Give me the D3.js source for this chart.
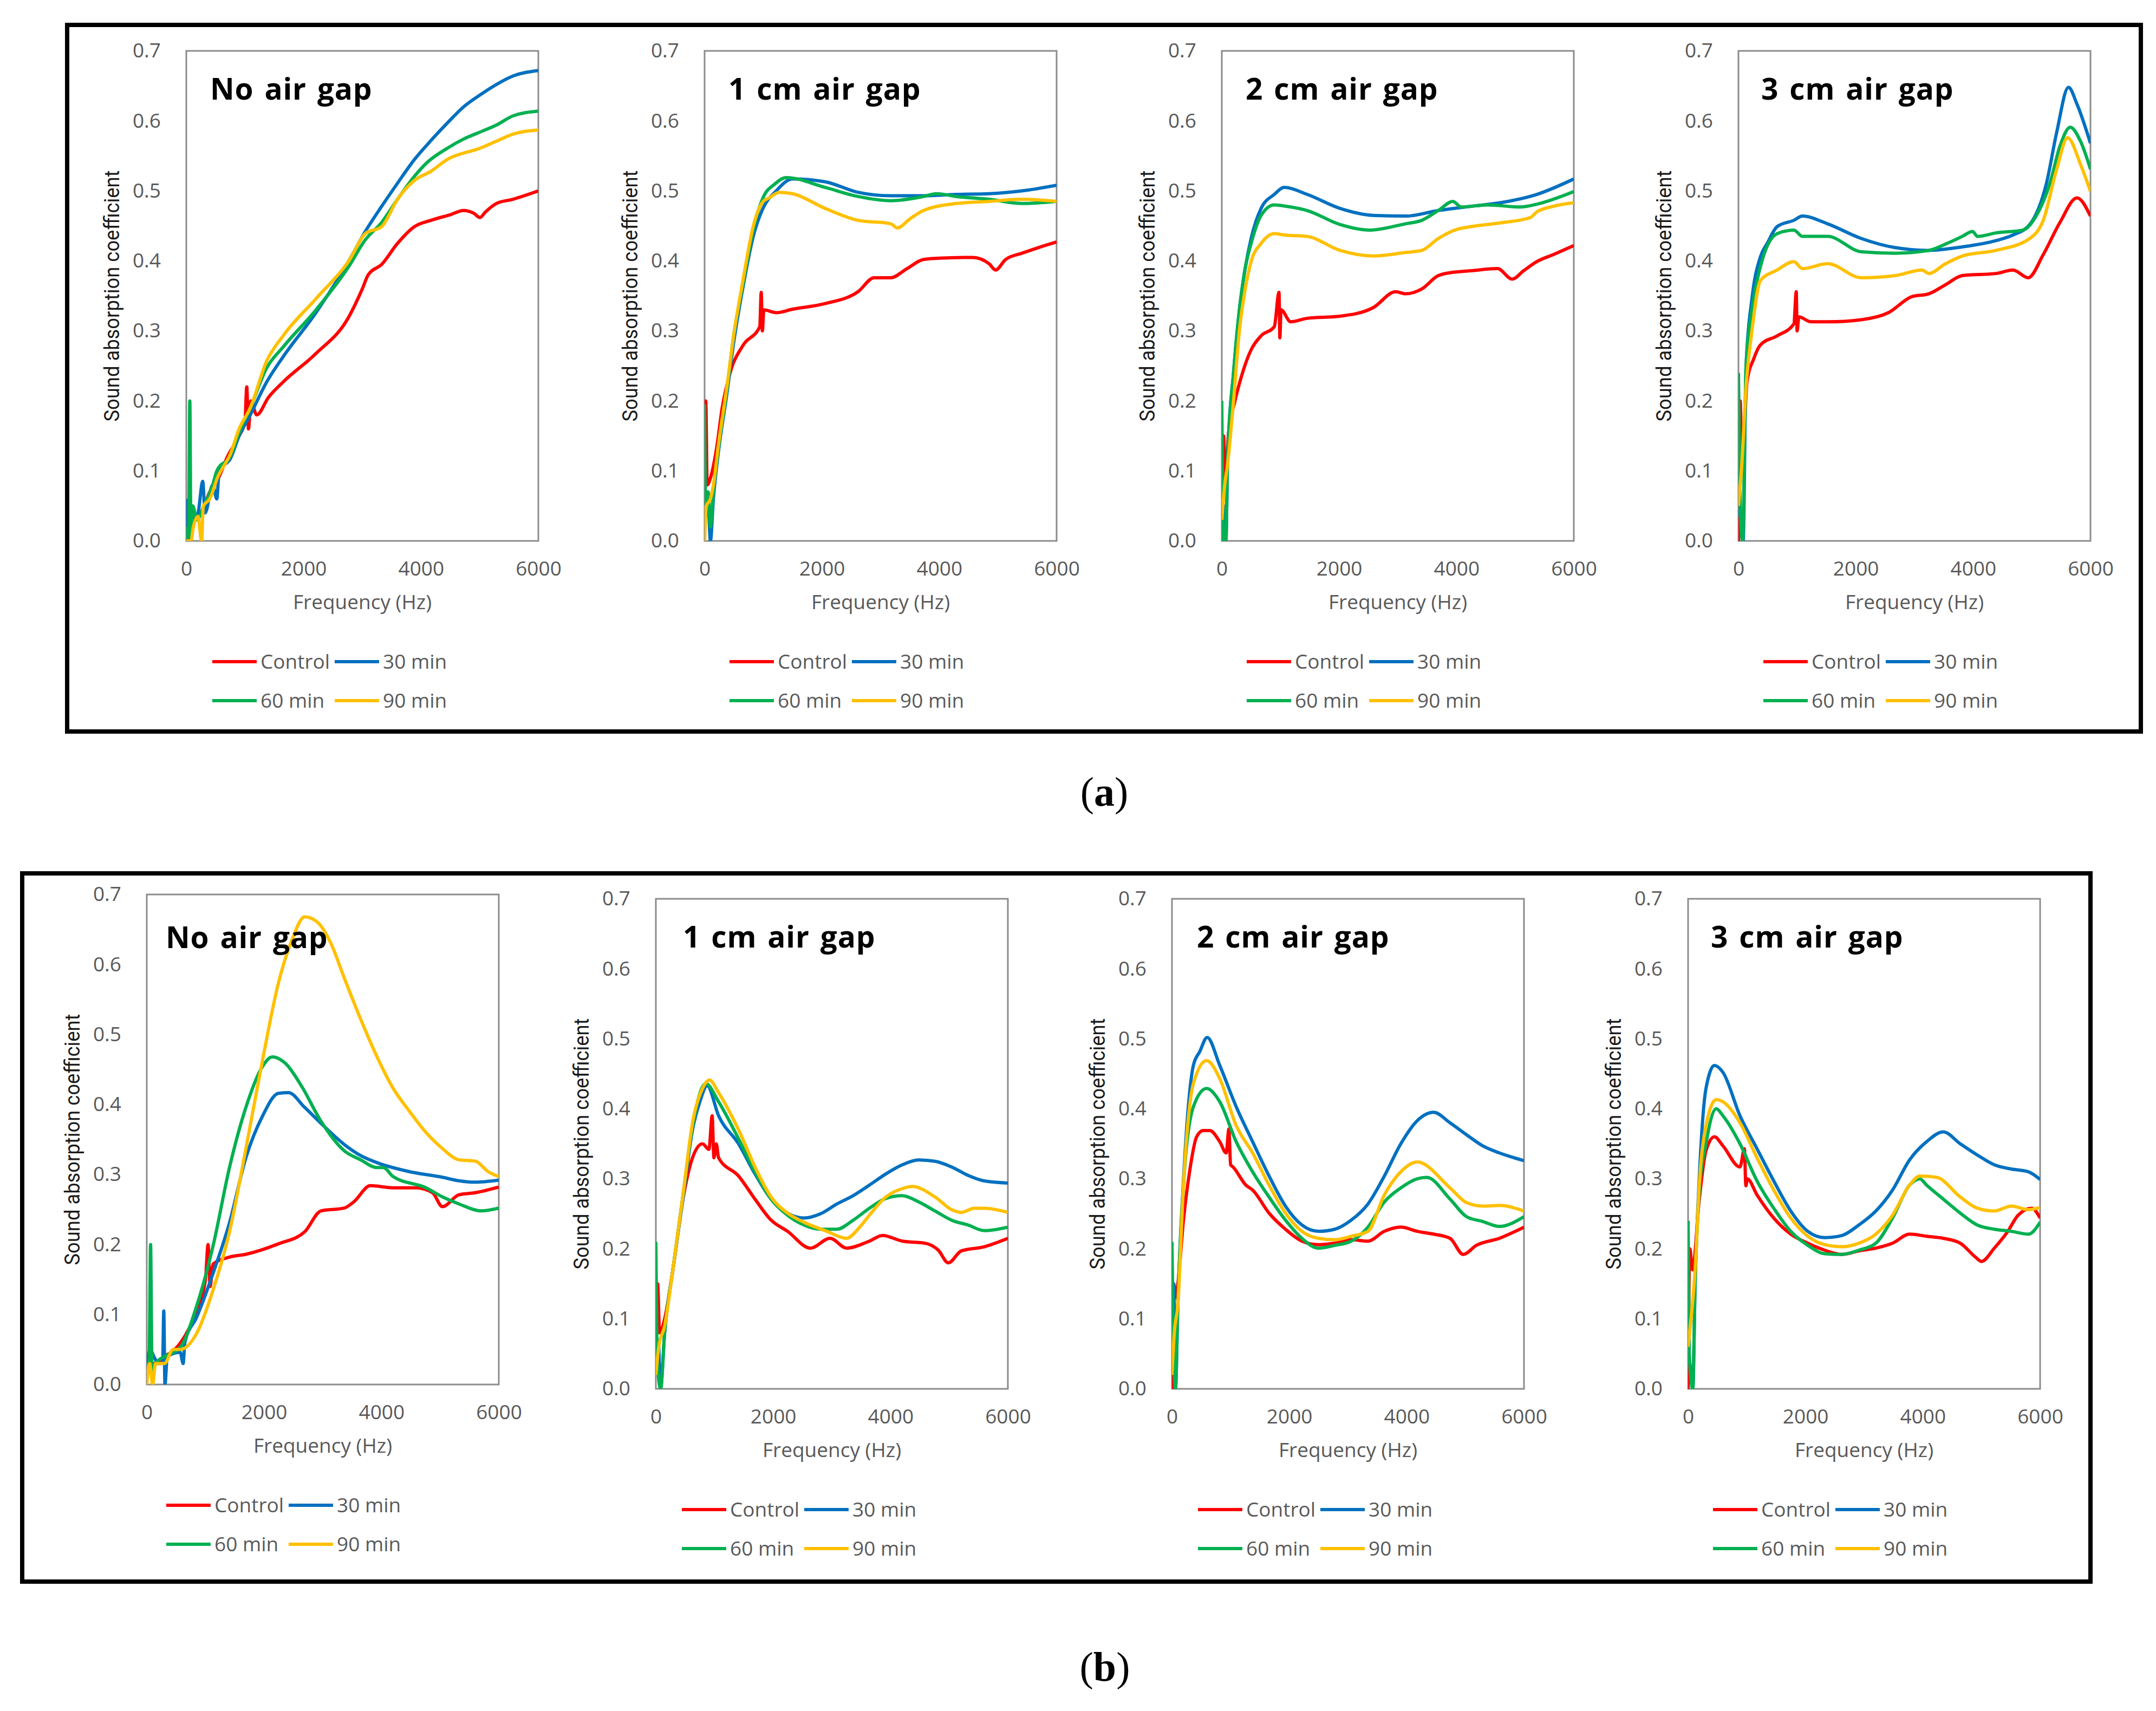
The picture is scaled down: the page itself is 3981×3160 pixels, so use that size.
<!DOCTYPE html>
<html>
<head>
<meta charset="utf-8">
<script src="https://d3js.org/d3.v7.min.js"></script>
<style>
  body { margin: 0; background: #fff; }
</style>
</head>
<body>
<div id="chart"></div>
<script>
// ---- data: [frequency (Hz), sound absorption coefficient] ----
var seriesNames = ["Control", "30 min", "60 min", "90 min"];
var seriesColors = ["#ff0000", "#0070c0", "#00b050", "#ffc000"];
var titles = ["No air gap", "1 cm air gap", "2 cm air gap", "3 cm air gap"];
var yTicks = [0, 0.1, 0.2, 0.3, 0.4, 0.5, 0.6, 0.7];
var xTicks = [0, 2000, 4000, 6000];

// (a) row
var a0_control = [[0,0.02],[40,0.0],[80,0.05],[150,0.03],[250,0.04],[400,0.07],[550,0.09],[700,0.12],[900,0.15],[1000,0.17],[1030,0.22],[1060,0.16],[1100,0.2],[1200,0.18],[1400,0.205],[1650,0.227],[2200,0.267],[2770,0.32],[3000,0.36],[3100,0.38],[3330,0.395],[3600,0.425],[3890,0.449],[4170,0.458],[4500,0.466],[4725,0.472],[4900,0.468],[5005,0.462],[5100,0.47],[5285,0.482],[5565,0.488],[6000,0.50]];
var a0_30 = [[0,0.06],[30,0.02],[60,0.055],[120,0.03],[200,0.04],[280,0.085],[320,0.04],[450,0.08],[520,0.06],[560,0.1],[755,0.118],[900,0.15],[1090,0.18],[1370,0.227],[1650,0.263],[2210,0.326],[2770,0.40],[3050,0.442],[3330,0.478],[3600,0.511],[3890,0.545],[4170,0.572],[4450,0.597],[4725,0.62],[5005,0.637],[5285,0.652],[5565,0.664],[6000,0.672]];
var a0_60 = [[0,0.02],[40,0.0],[60,0.2],[80,0.0],[110,0.05],[180,0.03],[300,0.05],[450,0.08],[520,0.1],[755,0.122],[900,0.155],[1090,0.19],[1370,0.247],[1650,0.277],[2210,0.33],[2770,0.392],[3050,0.43],[3330,0.455],[3600,0.488],[3890,0.521],[4110,0.541],[4450,0.561],[4725,0.574],[5005,0.584],[5285,0.594],[5565,0.607],[6000,0.614]];
var a0_90 = [[0,0.0],[80,0.0],[120,0.02],[200,0.035],[260,0.0],[290,0.05],[400,0.06],[530,0.09],[755,0.125],[900,0.16],[1090,0.19],[1370,0.257],[1650,0.293],[2210,0.346],[2770,0.40],[3050,0.439],[3330,0.449],[3600,0.488],[3890,0.515],[4170,0.528],[4450,0.545],[5005,0.561],[5285,0.571],[5565,0.581],[6000,0.587]];

var a1_control = [[0,0.0],[20,0.2],[45,0.08],[100,0.09],[200,0.13],[300,0.19],[435,0.24],[660,0.28],[940,0.306],[965,0.355],[985,0.30],[1010,0.33],[1220,0.326],[1500,0.331],[2055,0.339],[2615,0.356],[2890,0.376],[3175,0.376],[3450,0.389],[3730,0.402],[4010,0.404],[4570,0.405],[4850,0.396],[4960,0.387],[5130,0.402],[5410,0.411],[5690,0.419],[6000,0.427]];
var a1_30 = [[0,0.05],[50,0.07],[100,0.0],[150,0.06],[240,0.13],[380,0.21],[490,0.28],[660,0.365],[830,0.435],[995,0.475],[1220,0.50],[1500,0.517],[2055,0.513],[2615,0.498],[3175,0.493],[3730,0.493],[4290,0.495],[4850,0.496],[5410,0.50],[6000,0.508]];
var a1_60 = [[0,0.195],[20,0.05],[60,0.07],[100,0.02],[150,0.07],[240,0.135],[380,0.215],[490,0.29],[660,0.37],[830,0.445],[995,0.49],[1200,0.51],[1390,0.519],[2055,0.505],[2615,0.492],[3175,0.486],[3730,0.492],[3955,0.496],[4290,0.492],[4850,0.488],[5410,0.482],[6000,0.485]];
var a1_90 = [[0,0.0],[30,0.05],[100,0.06],[150,0.08],[240,0.14],[380,0.22],[490,0.29],[660,0.375],[830,0.45],[1000,0.485],[1100,0.49],[1275,0.498],[1500,0.496],[2055,0.475],[2615,0.458],[3175,0.453],[3285,0.447],[3500,0.46],[3730,0.472],[4290,0.482],[4850,0.485],[5410,0.488],[6000,0.485]];

var a2_control = [[0,0.0],[30,0.15],[60,0.08],[110,0.15],[225,0.2],[335,0.235],[500,0.273],[670,0.293],[895,0.306],[975,0.355],[990,0.29],[1010,0.33],[1175,0.313],[1455,0.318],[2015,0.321],[2575,0.333],[2965,0.356],[3130,0.353],[3410,0.36],[3690,0.379],[3970,0.384],[4250,0.386],[4700,0.389],[4950,0.374],[5145,0.386],[5370,0.399],[5650,0.409],[6000,0.422]];
var a2_30 = [[0,0.0],[40,0.05],[70,0.0],[100,0.12],[200,0.24],[300,0.33],[400,0.39],[500,0.432],[670,0.475],[895,0.495],[1065,0.505],[1455,0.495],[2015,0.475],[2575,0.465],[3130,0.464],[3690,0.472],[4250,0.478],[4810,0.484],[5370,0.495],[6000,0.517]];
var a2_60 = [[0,0.2],[30,0.0],[70,0.0],[100,0.12],[200,0.24],[300,0.33],[400,0.39],[500,0.425],[670,0.465],[895,0.48],[1175,0.477],[1455,0.472],[2015,0.452],[2520,0.444],[3130,0.453],[3410,0.458],[3690,0.472],[3940,0.485],[4080,0.477],[4530,0.48],[5090,0.477],[5370,0.481],[6000,0.499]];
var a2_90 = [[0,0.03],[50,0.08],[100,0.11],[200,0.2],[300,0.3],[400,0.36],[500,0.399],[670,0.425],[895,0.439],[1065,0.437],[1455,0.435],[2015,0.415],[2575,0.407],[3130,0.412],[3410,0.415],[3690,0.432],[3970,0.444],[4250,0.449],[4810,0.455],[5260,0.462],[5370,0.47],[5650,0.478],[6000,0.483]];

var a3_control = [[0,0.0],[30,0.2],[60,0.1],[145,0.227],[260,0.26],[375,0.28],[660,0.293],[945,0.31],[985,0.356],[1000,0.30],[1030,0.32],[1235,0.313],[1520,0.313],[2095,0.316],[2555,0.326],[2955,0.349],[3245,0.353],[3530,0.366],[3815,0.379],[4390,0.382],[4680,0.387],[4940,0.376],[5195,0.409],[5480,0.455],[5770,0.49],[6000,0.464]];
var a3_30 = [[0,0.05],[40,0.03],[80,0.0],[130,0.25],[230,0.346],[375,0.406],[490,0.425],[660,0.449],[945,0.458],[1090,0.464],[1520,0.453],[2095,0.432],[2670,0.419],[3245,0.415],[3815,0.42],[4390,0.429],[4680,0.437],[4965,0.452],[5250,0.511],[5425,0.584],[5625,0.648],[5770,0.624],[6000,0.568]];
var a3_60 = [[0,0.24],[30,0.05],[70,0.0],[130,0.25],[230,0.33],[375,0.392],[660,0.439],[945,0.444],[1090,0.435],[1520,0.435],[2095,0.413],[2670,0.411],[3245,0.415],[3530,0.424],[3815,0.435],[3990,0.442],[4075,0.435],[4390,0.44],[4850,0.444],[5080,0.465],[5310,0.511],[5480,0.564],[5655,0.591],[5830,0.571],[6000,0.531]];
var a3_90 = [[0,0.05],[50,0.1],[130,0.22],[230,0.3],[375,0.372],[660,0.387],[945,0.399],[1090,0.389],[1520,0.396],[2095,0.376],[2670,0.379],[3130,0.387],[3245,0.382],[3530,0.396],[3815,0.407],[4390,0.415],[4965,0.432],[5195,0.458],[5425,0.531],[5610,0.576],[5830,0.538],[6000,0.499]];

// (b) row
var b0_control = [[0,0.03],[50,0.04],[100,0.03],[200,0.03],[290,0.04],[400,0.045],[570,0.059],[850,0.106],[1000,0.15],[1045,0.20],[1080,0.14],[1130,0.172],[1410,0.182],[1690,0.186],[2245,0.201],[2690,0.218],[2970,0.248],[3365,0.252],[3530,0.261],[3810,0.284],[4200,0.281],[4590,0.281],[4870,0.274],[5040,0.254],[5320,0.271],[5600,0.274],[6000,0.282]];
var b0_30 = [[0,0.03],[60,0.05],[120,0.04],[200,0.03],[270,0.03],[290,0.105],[310,0.0],[350,0.04],[570,0.046],[620,0.03],[650,0.06],[850,0.096],[1130,0.159],[1410,0.231],[1690,0.324],[1970,0.383],[2245,0.416],[2415,0.417],[2690,0.396],[2970,0.373],[3365,0.343],[3645,0.327],[3920,0.317],[4480,0.304],[5040,0.296],[5320,0.291],[5600,0.289],[6000,0.292]];
var b0_60 = [[0,0.03],[40,0.03],[65,0.2],[90,0.02],[150,0.03],[300,0.04],[570,0.053],[850,0.112],[1130,0.198],[1410,0.31],[1690,0.396],[1970,0.454],[2140,0.468],[2360,0.459],[2640,0.426],[2970,0.376],[3365,0.334],[3645,0.321],[3920,0.31],[4030,0.31],[4200,0.297],[4760,0.281],[5040,0.268],[5320,0.258],[5710,0.248],[6000,0.252]];
var b0_90 = [[0,0.0],[50,0.03],[100,0.0],[150,0.03],[300,0.03],[450,0.05],[570,0.05],[850,0.073],[1130,0.135],[1410,0.218],[1690,0.337],[1970,0.462],[2245,0.574],[2470,0.634],[2690,0.668],[2915,0.66],[3140,0.63],[3365,0.581],[3645,0.522],[3920,0.469],[4200,0.423],[4480,0.39],[4760,0.36],[5040,0.337],[5320,0.321],[5600,0.319],[5820,0.304],[6000,0.297]];

var b1_control = [[0,0.1],[30,0.15],[65,0.08],[150,0.1],[290,0.17],[460,0.27],[625,0.33],[795,0.35],[905,0.342],[960,0.39],[990,0.33],[1030,0.35],[1070,0.33],[1410,0.304],[1690,0.271],[1965,0.241],[2245,0.225],[2635,0.201],[2970,0.215],[3250,0.201],[3640,0.211],[3865,0.219],[4200,0.211],[4590,0.208],[4815,0.198],[4985,0.18],[5205,0.197],[5600,0.203],[6000,0.215]];
var b1_30 = [[0,0.05],[40,0.07],[80,0.0],[150,0.08],[290,0.17],[460,0.27],[625,0.37],[750,0.41],[875,0.433],[1070,0.39],[1410,0.35],[1690,0.307],[1965,0.271],[2245,0.251],[2525,0.244],[2805,0.25],[3085,0.264],[3365,0.276],[3640,0.291],[3920,0.307],[4200,0.32],[4480,0.327],[4760,0.325],[5040,0.317],[5320,0.305],[5600,0.297],[6000,0.294]];
var b1_60 = [[0,0.21],[20,0.05],[80,0.0],[150,0.08],[290,0.17],[460,0.275],[625,0.375],[850,0.436],[1070,0.41],[1410,0.357],[1690,0.31],[1965,0.271],[2245,0.248],[2525,0.234],[2805,0.228],[3085,0.228],[3365,0.241],[3640,0.258],[3920,0.272],[4200,0.276],[4480,0.267],[4760,0.254],[5040,0.241],[5320,0.234],[5600,0.226],[6000,0.231]];
var b1_90 = [[0,0.02],[50,0.06],[150,0.09],[290,0.17],[460,0.275],[625,0.38],[800,0.43],[915,0.441],[1070,0.423],[1410,0.37],[1690,0.317],[1965,0.274],[2245,0.251],[2525,0.238],[2915,0.225],[3250,0.215],[3475,0.231],[3640,0.248],[3920,0.274],[4200,0.286],[4370,0.289],[4760,0.274],[5040,0.256],[5205,0.252],[5430,0.258],[5600,0.258],[6000,0.252]];

var b2_control = [[0,0.0],[30,0.15],[55,0.13],[100,0.15],[195,0.24],[300,0.31],[420,0.36],[530,0.369],[645,0.369],[815,0.353],[925,0.337],[970,0.371],[1000,0.32],[1040,0.317],[1260,0.291],[1375,0.284],[1655,0.251],[1935,0.228],[2215,0.211],[2495,0.206],[2775,0.208],[3055,0.213],[3340,0.211],[3620,0.225],[3900,0.231],[4180,0.225],[4460,0.221],[4740,0.215],[4965,0.192],[5190,0.205],[5580,0.215],[6000,0.231]];
var b2_30 = [[0,0.1],[30,0.15],[60,0.0],[100,0.12],[195,0.297],[365,0.462],[475,0.482],[600,0.502],[815,0.462],[1095,0.403],[1375,0.353],[1655,0.304],[1935,0.261],[2215,0.234],[2495,0.225],[2775,0.228],[3055,0.241],[3340,0.264],[3620,0.304],[3900,0.35],[4180,0.383],[4460,0.395],[4740,0.38],[5020,0.363],[5300,0.347],[5580,0.337],[6000,0.326]];
var b2_60 = [[0,0.21],[20,0.08],[60,0.0],[100,0.12],[195,0.29],[365,0.403],[590,0.429],[815,0.41],[1095,0.353],[1375,0.31],[1655,0.274],[1935,0.241],[2215,0.215],[2495,0.201],[2775,0.205],[3055,0.211],[3340,0.231],[3620,0.267],[3900,0.287],[4180,0.30],[4345,0.302],[4740,0.271],[5020,0.246],[5300,0.239],[5580,0.232],[6000,0.246]];
var b2_90 = [[0,0.02],[40,0.08],[100,0.12],[195,0.29],[365,0.436],[590,0.469],[815,0.443],[1095,0.376],[1375,0.337],[1655,0.291],[1935,0.251],[2215,0.225],[2495,0.215],[2775,0.213],[3055,0.218],[3340,0.225],[3620,0.277],[3900,0.31],[4180,0.324],[4740,0.287],[5020,0.266],[5300,0.261],[5580,0.262],[6000,0.254]];

var b3_control = [[0,0.0],[30,0.2],[75,0.17],[190,0.27],[305,0.34],[450,0.36],[595,0.347],[885,0.317],[960,0.343],[985,0.29],[1010,0.3],[1175,0.277],[1460,0.244],[1750,0.221],[2040,0.208],[2330,0.198],[2620,0.192],[2910,0.197],[3200,0.201],[3485,0.208],[3775,0.221],[4065,0.218],[4350,0.215],[4640,0.208],[4900,0.188],[5000,0.182],[5220,0.201],[5450,0.225],[5625,0.248],[5860,0.258],[6000,0.244]];
var b3_30 = [[0,0.05],[40,0.03],[80,0.0],[120,0.15],[190,0.3],[305,0.429],[450,0.462],[595,0.452],[885,0.39],[1175,0.343],[1460,0.297],[1750,0.254],[2040,0.225],[2330,0.216],[2620,0.219],[2910,0.234],[3200,0.254],[3485,0.284],[3775,0.327],[4065,0.353],[4350,0.367],[4640,0.35],[4930,0.334],[5220,0.32],[5510,0.314],[5800,0.31],[6000,0.299]];
var b3_60 = [[0,0.24],[20,0.05],[80,0.0],[120,0.15],[190,0.28],[305,0.35],[480,0.40],[595,0.39],[885,0.35],[1175,0.297],[1460,0.258],[1750,0.225],[2040,0.205],[2330,0.193],[2620,0.192],[2910,0.198],[3200,0.208],[3485,0.244],[3775,0.291],[3950,0.30],[4065,0.291],[4350,0.271],[4640,0.251],[4930,0.234],[5220,0.228],[5510,0.225],[5800,0.221],[6000,0.238]];
var b3_90 = [[0,0.06],[50,0.1],[120,0.17],[190,0.29],[305,0.376],[480,0.413],[595,0.41],[885,0.38],[1175,0.33],[1460,0.284],[1750,0.244],[2040,0.218],[2330,0.206],[2620,0.203],[2910,0.208],[3200,0.221],[3485,0.248],[3775,0.291],[3950,0.304],[4240,0.302],[4640,0.274],[4930,0.258],[5220,0.254],[5510,0.261],[5800,0.256],[6000,0.259]];

// ---- layout (pixel positions of each plot area) ----
var plotW = 650, plotH = 905;
var panels = [
  {x: 344, y: 94, title: 0, legendDx: 48, titleDx: 44, titleDy: 90, data: [a0_control, a0_30, a0_60, a0_90]},
  {x: 1301, y: 94, title: 1, legendDx: 46, titleDx: 44, titleDy: 90, data: [a1_control, a1_30, a1_60, a1_90]},
  {x: 2256, y: 94, title: 2, legendDx: 46, titleDx: 44, titleDy: 90, data: [a2_control, a2_30, a2_60, a2_90]},
  {x: 3210, y: 94, title: 3, legendDx: 46, titleDx: 42, titleDy: 90, data: [a3_control, a3_30, a3_60, a3_90]},
  {x: 271, y: 1652, title: 0, legendDx: 36, titleDx: 35, titleDy: 99, data: [b0_control, b0_30, b0_60, b0_90]},
  {x: 1211, y: 1660, title: 1, legendDx: 48, titleDx: 50, titleDy: 90, data: [b1_control, b1_30, b1_60, b1_90]},
  {x: 2164, y: 1660, title: 2, legendDx: 48, titleDx: 46, titleDy: 90, data: [b2_control, b2_30, b2_60, b2_90]},
  {x: 3117, y: 1660, title: 3, legendDx: 46, titleDx: 42, titleDy: 90, data: [b3_control, b3_30, b3_60, b3_90]}
];

var font = "'Open Sans', 'DejaVu Sans', sans-serif";
var grey = "#595959";

var svg = d3.select("#chart").append("svg")
  .attr("width", 3981)
  .attr("height", 3160)
  .style("display", "block");

svg.append("rect").attr("width", 3981).attr("height", 3160).attr("fill", "#fff");

// outer frames around (a) and (b)
svg.append("rect").attr("x", 124).attr("y", 46).attr("width", 3829).attr("height", 1305)
  .attr("fill", "none").attr("stroke", "#000").attr("stroke-width", 8);
svg.append("rect").attr("x", 41).attr("y", 1613).attr("width", 3819).attr("height", 1308)
  .attr("fill", "none").attr("stroke", "#000").attr("stroke-width", 8);

// captions
svg.append("text").attr("x", 2039).attr("y", 1488).attr("text-anchor", "middle")
  .attr("font-family", "'Liberation Serif', 'DejaVu Serif', serif").attr("font-size", 76)
  .html("(<tspan font-weight='bold'>a</tspan>)");
svg.append("text").attr("x", 2040).attr("y", 3104).attr("text-anchor", "middle")
  .attr("font-family", "'Liberation Serif', 'DejaVu Serif', serif").attr("font-size", 76)
  .html("(<tspan font-weight='bold'>b</tspan>)");

var x = d3.scaleLinear().domain([0, 6000]).range([0, plotW]);
var y = d3.scaleLinear().domain([0, 0.7]).range([plotH, 0]);

var line = d3.line()
  .x(function (d) { return x(d[0]); })
  .y(function (d) { return y(d[1]); })
  .curve(d3.curveMonotoneX);

panels.forEach(function (p, i) {
  var g = svg.append("g").attr("transform", "translate(" + p.x + "," + p.y + ")");

  // clip so that lines stay in the plot area
  g.append("clipPath").attr("id", "clip" + i)
    .append("rect").attr("width", plotW).attr("height", plotH);

  // y axis
  g.append("g")
    .call(d3.axisLeft(y).tickValues(yTicks).tickFormat(d3.format(".1f")).tickSize(0).tickPadding(47))
    .call(function (s) { s.select(".domain").remove(); })
    .attr("font-family", font).attr("font-size", 37).attr("color", grey);

  // x axis
  g.append("g")
    .attr("transform", "translate(0," + plotH + ")")
    .call(d3.axisBottom(x).tickValues(xTicks).tickFormat(d3.format("d")).tickSize(0).tickPadding(38))
    .call(function (s) { s.select(".domain").remove(); })
    .attr("font-family", font).attr("font-size", 37).attr("color", grey);

  // axis titles
  g.append("text")
    .attr("x", plotW / 2).attr("y", plotH + 126)
    .attr("text-anchor", "middle")
    .attr("font-family", font).attr("font-size", 37).attr("fill", grey)
    .text("Frequency (Hz)");

  g.append("text")
    .attr("transform", "translate(-137," + (plotH / 2) + ") rotate(-90)")
    .attr("text-anchor", "middle")
    .attr("dominant-baseline", "central")
    .attr("font-family", "'Liberation Sans Narrow', 'Roboto', 'Open Sans', sans-serif")
    .attr("font-size", 38)
    .attr("textLength", 464).attr("lengthAdjust", "spacingAndGlyphs")
    .attr("fill", "#1a1a1a")
    .text("Sound absorption coefficient");

  // plot frame
  g.append("rect").attr("width", plotW).attr("height", plotH)
    .attr("fill", "none").attr("stroke", "#8c8c8c").attr("stroke-width", 3);

  // series
  g.append("g").attr("clip-path", "url(#clip" + i + ")")
    .selectAll("path")
    .data(p.data)
    .join("path")
    .attr("fill", "none")
    .attr("stroke", function (d, k) { return seriesColors[k]; })
    .attr("stroke-width", 6)
    .attr("stroke-linejoin", "round")
    .attr("d", line);

  // panel title
  g.append("text")
    .attr("x", p.titleDx).attr("y", p.titleDy)
    .attr("font-family", font).attr("font-weight", "bold").attr("font-size", 55)
    .attr("letter-spacing", 0.8).attr("word-spacing", 5)
    .attr("fill", "#000")
    .text(titles[p.title]);

  // legend (2 x 2)
  var leg = g.append("g").attr("transform", "translate(" + p.legendDx + "," + (plotH + 223) + ")");
  seriesNames.forEach(function (name, k) {
    var cx = (k % 2) * 226, cy = Math.floor(k / 2) * 72;
    leg.append("line")
      .attr("x1", cx).attr("x2", cx + 82).attr("y1", cy).attr("y2", cy)
      .attr("stroke", seriesColors[k]).attr("stroke-width", 6);
    leg.append("text")
      .attr("x", cx + 89).attr("y", cy).attr("dy", "0.35em")
      .attr("font-family", font).attr("font-size", 37).attr("fill", grey)
      .text(name);
  });
});
</script>
</body>
</html>
